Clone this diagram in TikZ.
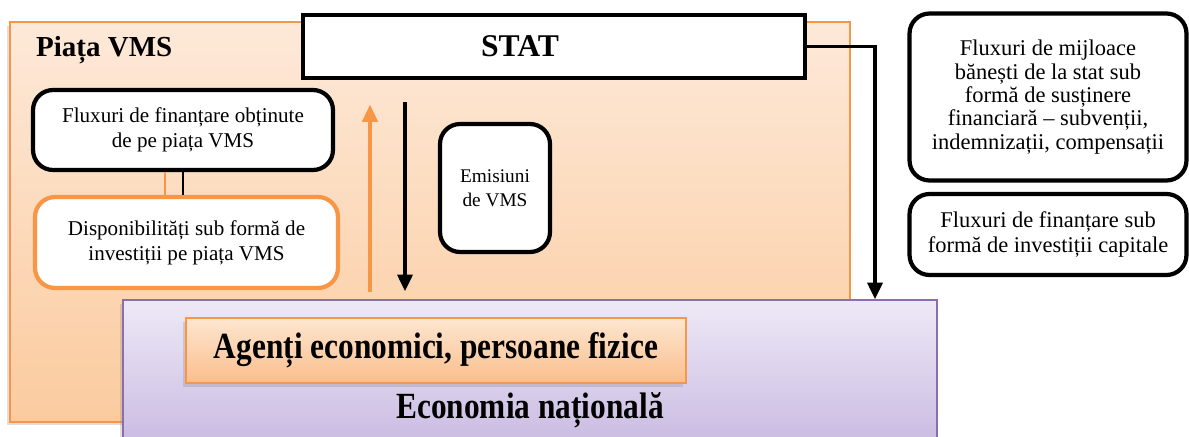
\documentclass[tikz,border=0pt]{standalone}
\usepackage{fontspec}
\setmainfont{Liberation Serif}
\newfontfamily\narrowserif[FakeStretch=0.85]{Liberation Serif}
\usetikzlibrary{arrows.meta,shadows}

\definecolor{vmsorange}{RGB}{247,150,70}
\definecolor{peachtop}{RGB}{253,233,217}
\definecolor{peachbottom}{RGB}{251,203,158}
\definecolor{agenttop}{RGB}{253,230,208}
\definecolor{agentbottom}{RGB}{250,190,140}
\definecolor{lilactop}{RGB}{238,233,246}
\definecolor{lilacbottom}{RGB}{202,187,226}
\definecolor{lilacedge}{RGB}{140,110,175}

\tikzset{
  roundbox/.style={draw=black, line width=2.4pt, rounded corners=0.4cm, fill=white,
    align=center, inner sep=0pt, font=\fontsize{12}{14.2}\selectfont},
  orangebox/.style={roundbox, draw=vmsorange},
  softshadow/.style={drop shadow={opacity=0.25, shadow xshift=-1.5pt, shadow yshift=-2pt}},
  flow/.style={draw=black, line width=2.1pt, -{Triangle[width=8.5pt,length=9.5pt]}},
  flowup/.style={draw=vmsorange, line width=2.8pt, -{Triangle[width=8.5pt,length=10pt]}},
}

\begin{document}
\begin{tikzpicture}[x=0.02cm, y=-0.02cm]
  \useasboundingbox (0,0) rectangle (1189,436);

  % piata VMS
  \node[draw=vmsorange, line width=0.8pt, top color=peachtop, bottom color=peachbottom,
    minimum width=16.8cm, minimum height=8cm, inner sep=0pt, softshadow] (piata) at (430,222) {};
  \node[anchor=west, font=\fontsize{16.5}{18}\selectfont\bfseries] (piatalbl) at (30,50) {Piața VMS};

  \node[draw=black, line width=2.6pt, fill=white, minimum width=10.04cm, minimum height=1.26cm] (stat) at (554,46.5) {};
  \node[font=\fontsize{18}{20}\selectfont\bfseries] (statlbl) at (520,46.5) {STAT};

  \node[roundbox, minimum width=6cm, minimum height=1.6cm] (fin) at (183,130)
    {Fluxuri de finanțare obținute\\de pe piața VMS};
  \node[orangebox, minimum width=6.06cm, minimum height=1.82cm] (disp) at (186.5,242.5)
    {Disponibilități sub formă de\\investiții pe piața VMS};
  \node[roundbox, font=\fontsize{11}{13.5}\selectfont, minimum width=2.2cm, minimum height=2.56cm] (emis) at (495,188)
    {Emisiuni\\de VMS};

  \draw[vmsorange, line width=0.8pt] ([xshift=-0.36cm]fin.south) -- ([xshift=-0.36cm]fin.south |- disp.north);
  \draw[black, line width=0.8pt] (fin.south) -- (fin.south |- disp.north);

  % economia nationala
  \node[draw=lilacedge, line width=0.8pt, top color=lilactop, bottom color=lilacbottom,
    minimum width=16.28cm, minimum height=2.88cm, inner sep=0pt, softshadow] (econ) at (530,372) {};
  \node[draw=vmsorange, line width=0.8pt, top color=agenttop, bottom color=agentbottom,
    minimum width=10cm, minimum height=1.3cm, softshadow,
    font=\narrowserif\bfseries\fontsize{21}{23}\selectfont] (agent) at (436,350.5)
    {Agenți economici, persoane fizice};
  \node[font=\narrowserif\bfseries\fontsize{21}{23}\selectfont] (econlbl) at (530,410)
    {Economia națională};

  % fluxuri
  \coordinate (upx) at (370,0);
  \coordinate (downx) at (405,0);
  \coordinate (turnx) at (875,0);
  \draw[flowup, shorten <=0.14cm, shorten >=0.48cm] (upx |- econ.north) -- (upx |- stat.south);
  \draw[flow, shorten <=0.44cm, shorten >=0.16cm] (downx |- stat.south) -- (downx |- econ.north);
  \draw[flow] (stat.east) -| (turnx |- econ.north);

  % legenda
  \node[roundbox, font=\fontsize{12.8}{13.3}\selectfont, minimum width=5.54cm, minimum height=3.34cm] (mij) at (1048,97)
    {Fluxuri de mijloace\\bănești de la stat sub\\formă de susținere\\financiară – subvenții,\\indemnizații, compensații};
  \node[roundbox, font=\fontsize{12.8}{14}\selectfont, minimum width=5.54cm, minimum height=1.62cm] (cap) at (1048,234.5)
    {Fluxuri de finanțare sub\\formă de investiții capitale};
\end{tikzpicture}
\end{document}
